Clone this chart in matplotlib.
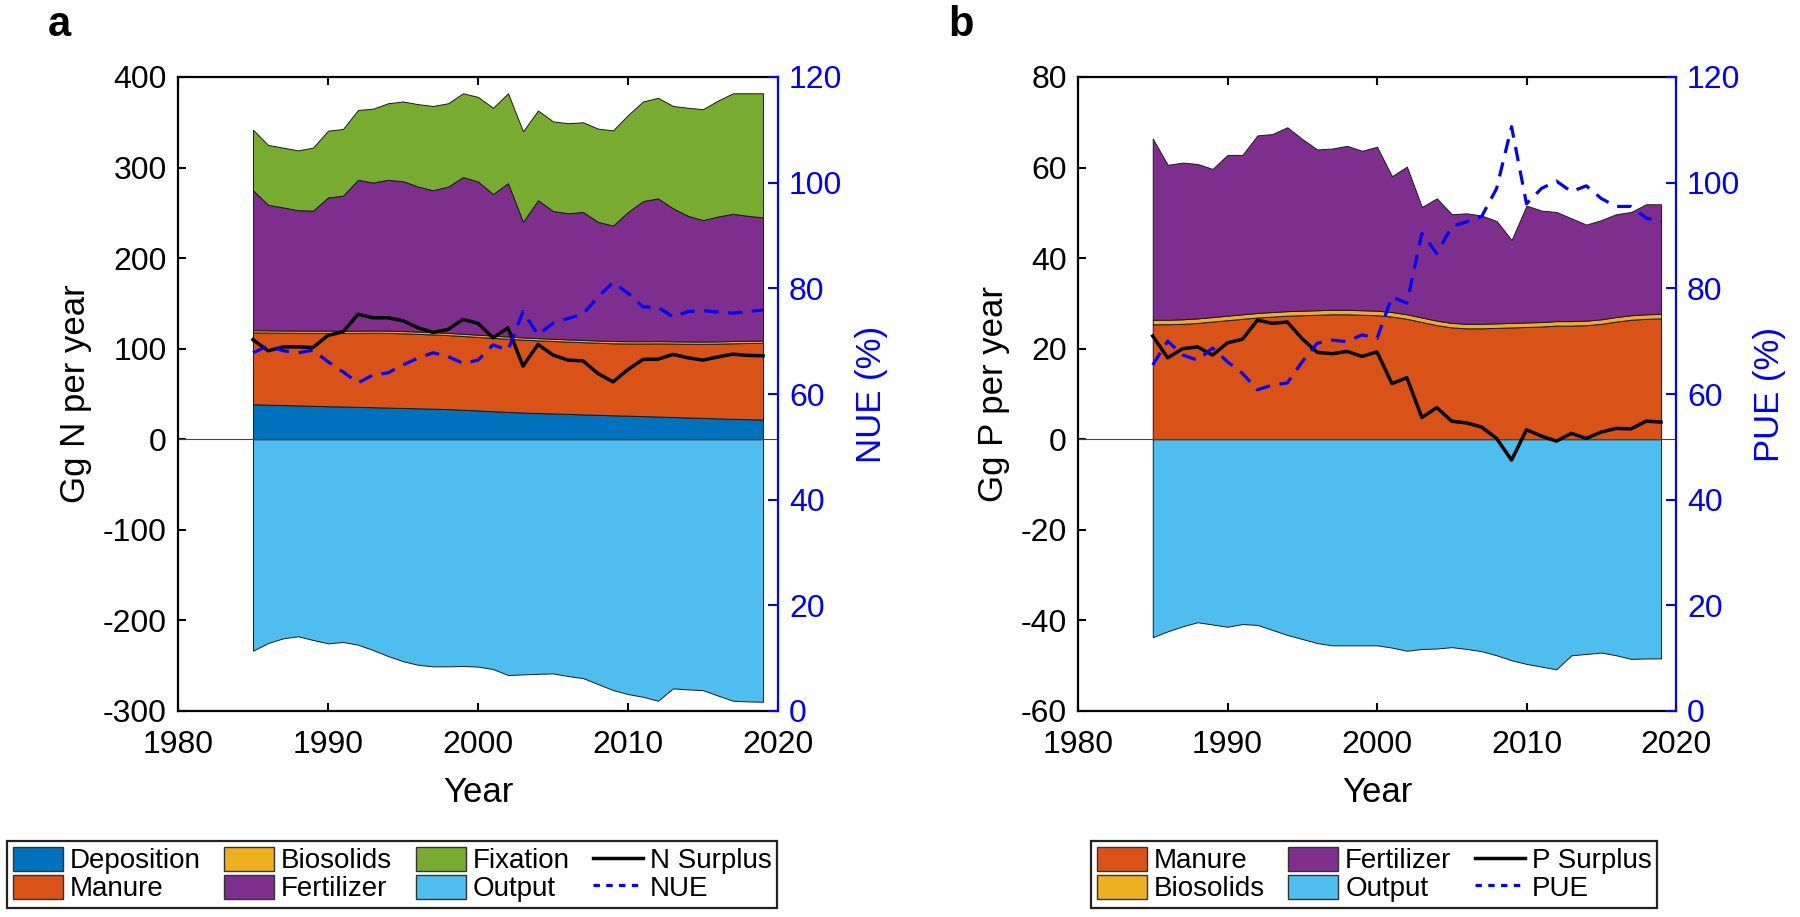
import matplotlib
matplotlib.use("Agg")
import matplotlib.pyplot as plt
from matplotlib.patches import Patch
from matplotlib.lines import Line2D
import numpy as np

plt.rcParams['font.family'] = ['Liberation Sans', 'DejaVu Sans']
plt.rcParams['axes.unicode_minus'] = False

years = list(range(1985, 2020))

# ---- panel a : nitrogen (Gg N per year) ----
n_deposition = [38.7, 38.2, 37.8, 37.4, 37.0, 36.5, 36.2, 35.8, 35.4, 35.0, 34.6, 34.2,
                33.8, 33.3, 32.6, 31.9, 31.0, 30.2, 29.5, 29.0, 28.5, 28.0, 27.5, 27.0,
                26.5, 26.1, 25.6, 25.1, 24.6, 24.1, 23.6, 23.1, 22.6, 22.2, 21.8]
n_manure = [79.3, 79.6, 79.8, 80.1, 80.5, 80.9, 81.2, 81.7, 82.2, 82.5, 82.4, 82.2,
            82.0, 81.7, 81.4, 81.1, 81.0, 80.8, 80.5, 80.2, 80.0, 79.8, 79.7, 79.6,
            79.5, 79.7, 80.2, 80.8, 81.1, 81.4, 81.8, 82.5, 83.4, 84.1, 84.7]
n_biosolids = [2.5] * 35
n_fertilizer = [154.5, 138.7, 135.9, 133.0, 132.5, 147.1, 149.1, 166.5, 163.4, 166.5, 165.5, 160.1,
                156.7, 161.5, 173.0, 169.1, 156.2, 169.3, 127.5, 152.3, 141.0, 139.3, 141.3, 130.9,
                127.5, 142.7, 154.7, 157.6, 146.8, 138.7, 134.1, 137.9, 140.5, 137.9, 136.0]
n_fixation = [66.8, 66.0, 66.0, 66.0, 69.5, 73.7, 73.6, 77.1, 81.5, 84.5, 88.0, 91.0,
              93.0, 92.0, 92.5, 93.4, 95.3, 99.2, 100.0, 99.0, 99.0, 99.4, 99.0, 103.0,
              105.0, 107.0, 110.0, 111.0, 113.0, 119.3, 122.5, 128.0, 133.0, 135.3, 137.0]
n_output = [-233.4, -225.0, -219.8, -217.5, -221.6, -225.3, -223.8, -226.8, -232.7, -239.3, -245.0, -249.0,
            -250.7, -250.7, -250.3, -251.0, -253.7, -260.3, -259.6, -259.0, -258.5, -261.4, -263.7, -270.3,
            -276.9, -281.3, -284.3, -288.7, -275.0, -276.2, -277.0, -283.0, -288.7, -289.4, -289.8]
n_surplus = [110.0, 97.7, 102.0, 102.0, 101.4, 114.7, 118.7, 138.0, 134.2, 134.2, 130.9, 123.1,
             118.0, 121.3, 132.4, 128.0, 112.0, 123.1, 80.8, 104.7, 93.0, 87.4, 86.6, 72.7,
             63.4, 77.0, 88.2, 88.5, 93.7, 90.0, 87.4, 91.0, 94.0, 92.6, 92.2]
nue = [67.8, 69.1, 68.2, 67.8, 68.3, 66.1, 64.2, 62.1, 63.6, 64.0, 65.5, 66.8,
       67.8, 67.1, 65.8, 66.4, 69.3, 68.3, 75.6, 71.2, 73.4, 74.3, 75.1, 78.4,
       81.1, 79.1, 76.5, 76.4, 74.6, 75.6, 75.8, 75.5, 75.3, 75.6, 75.9]

# ---- panel b : phosphorus (Gg P per year) ----
p_manure = [25.4, 25.4, 25.5, 25.7, 26.0, 26.3, 26.6, 26.9, 27.1, 27.3, 27.4, 27.5,
            27.6, 27.6, 27.5, 27.4, 27.1, 26.6, 25.9, 25.2, 24.7, 24.5, 24.5, 24.6,
            24.7, 24.8, 24.9, 25.1, 25.1, 25.2, 25.5, 26.0, 26.4, 26.6, 26.7]
p_biosolids = [1.0] * 35
p_fertilizer = [40.0, 34.2, 34.6, 34.1, 32.7, 35.5, 35.2, 39.2, 39.3, 40.6, 37.9, 35.5,
                35.6, 36.2, 35.2, 36.2, 30.0, 32.6, 24.4, 27.0, 24.0, 24.4, 23.9, 22.6,
                18.3, 25.8, 24.6, 24.1, 22.7, 21.2, 21.9, 22.7, 22.8, 24.3, 24.2]
p_output = [-43.7, -42.4, -41.3, -40.4, -40.9, -41.4, -40.8, -41.0, -42.1, -43.2, -44.1, -45.0,
            -45.5, -45.5, -45.5, -45.5, -46.0, -46.7, -46.3, -46.2, -45.9, -46.3, -46.8, -47.7,
            -48.8, -49.6, -50.2, -50.8, -47.7, -47.4, -47.1, -47.7, -48.5, -48.4, -48.4]
p_surplus = [22.8, 18.0, 20.0, 20.4, 18.6, 21.3, 22.1, 26.3, 25.6, 25.9, 22.2, 19.2,
             18.9, 19.4, 18.3, 19.3, 12.3, 13.6, 4.8, 7.0, 4.0, 3.6, 2.7, 0.2,
             -4.6, 2.1, 0.7, -0.4, 1.3, 0.2, 1.6, 2.4, 2.3, 4.0, 3.8]
pue = [65.5, 70.0, 67.4, 66.4, 68.7, 66.1, 63.9, 60.8, 61.7, 62.1, 66.1, 69.6,
       70.2, 69.9, 71.2, 70.5, 78.4, 77.2, 90.4, 86.6, 91.7, 92.6, 93.6, 98.9,
       110.6, 96.0, 98.9, 100.3, 98.3, 99.4, 97.0, 95.5, 95.5, 93.3, 92.6]

c_dep = '#0072BD'
c_man = '#D95319'
c_bio = '#EDB120'
c_fert = '#7E2F8E'
c_fix = '#77AC30'
c_out = '#4DBEEE'

fig = plt.figure(figsize=(18, 9.17), dpi=100)
ax_a = fig.add_axes([178 / 1800, 1 - 711 / 917, 600 / 1800, 634 / 917])
ax_b = fig.add_axes([1078 / 1800, 1 - 711 / 917, 598 / 1800, 634 / 917])

TICK = 23
LAB = 25
edge = dict(edgecolor='#1a1a1a', linewidth=0.7)


def style_axes(ax, ax2, ylim, yticks, ylabel, rlabel):
    ax.set_xlim(1980, 2020)
    ax.set_xticks([1980, 1990, 2000, 2010, 2020])
    ax.set_ylim(*ylim)
    ax.set_yticks(yticks)
    ax.set_xlabel('Year', fontsize=LAB, labelpad=11)
    ax.set_ylabel(ylabel, fontsize=LAB, labelpad=8)
    ax.tick_params(axis='both', direction='in', length=6, width=1.5, labelsize=TICK, pad=8)
    ax.tick_params(axis='x', top=True, pad=14)
    for s in ['left', 'bottom', 'top']:
        ax.spines[s].set_linewidth(1.6)
    ax.spines['right'].set_visible(False)

    ax2.set_ylim(0, 120)
    ax2.set_yticks(range(0, 121, 20))
    ax2.set_ylabel(rlabel, fontsize=LAB, color='blue', labelpad=9)
    ax2.tick_params(axis='y', direction='in', length=7, width=1.5, labelsize=TICK,
                    colors='blue', pad=8)
    for s in ['left', 'bottom', 'top']:
        ax2.spines[s].set_visible(False)
    ax2.spines['right'].set_color('blue')
    ax2.spines['right'].set_linewidth(1.6)


# panel a
ax_a.stackplot(years, n_deposition, n_manure, n_biosolids, n_fertilizer, n_fixation,
               colors=[c_dep, c_man, c_bio, c_fert, c_fix], **edge)
ax_a.fill_between(years, n_output, 0, facecolor=c_out, **edge)
ax_a.axhline(0, color='#444444', linewidth=0.8)
ax_a.plot(years, n_surplus, color='black', linewidth=2.5)
ax_a2 = ax_a.twinx()
ax_a2.plot(years, nue, color='blue', linewidth=2.3, linestyle=(0, (4.5, 3)))
style_axes(ax_a, ax_a2, (-300, 400), range(-300, 401, 100), 'Gg N per year', 'NUE (%)')

# panel b
ax_b.stackplot(years, p_manure, p_biosolids, p_fertilizer,
               colors=[c_man, c_bio, c_fert], **edge)
ax_b.fill_between(years, p_output, 0, facecolor=c_out, **edge)
ax_b.axhline(0, color='#444444', linewidth=0.8)
ax_b.plot(years, p_surplus, color='black', linewidth=2.5)
ax_b2 = ax_b.twinx()
ax_b2.plot(years, pue, color='blue', linewidth=2.3, linestyle=(0, (4.5, 3)))
style_axes(ax_b, ax_b2, (-60, 80), range(-60, 81, 20), 'Gg P per year', 'PUE (%)')

fig.text(48 / 1800, 1 - 36 / 917, 'a', fontsize=30, fontweight='bold')
fig.text(948 / 1800, 1 - 36 / 917, 'b', fontsize=30, fontweight='bold')


def patch(c, name):
    return Patch(facecolor=c, edgecolor='#333333', linewidth=1.0, label=name)


leg_kw = dict(fontsize=20, frameon=True, fancybox=False, framealpha=1,
              edgecolor='#222222', handlelength=1.8, handleheight=1.0,
              handletextpad=0.25, columnspacing=0.85, labelspacing=0.0,
              borderpad=0.2, borderaxespad=0, loc='lower left')

handles_a = [patch(c_dep, 'Deposition'), patch(c_man, 'Manure'),
             patch(c_bio, 'Biosolids'), patch(c_fert, 'Fertilizer'),
             patch(c_fix, 'Fixation'), patch(c_out, 'Output'),
             Line2D([], [], color='black', linewidth=2.5, label='N Surplus'),
             Line2D([], [], color='blue', linewidth=2.3, linestyle=(0, (2, 2)), label='NUE')]
leg_a = fig.legend(handles=handles_a, ncol=4, bbox_to_anchor=(7 / 1800, 1 - 908 / 917), **leg_kw)
leg_a.get_frame().set_linewidth(1.6)

handles_b = [patch(c_man, 'Manure'), patch(c_bio, 'Biosolids'),
             patch(c_fert, 'Fertilizer'), patch(c_out, 'Output'),
             Line2D([], [], color='black', linewidth=2.5, label='P Surplus'),
             Line2D([], [], color='blue', linewidth=2.3, linestyle=(0, (2, 2)), label='PUE')]
leg_b = fig.legend(handles=handles_b, ncol=3, bbox_to_anchor=(1091 / 1800, 1 - 908 / 917), **leg_kw)
leg_b.get_frame().set_linewidth(1.6)

fig.savefig('out.png', dpi=100)
